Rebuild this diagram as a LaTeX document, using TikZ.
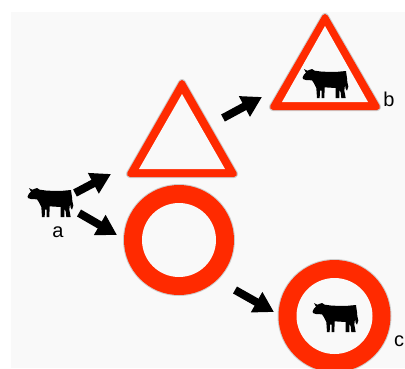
\documentclass[tikz,border=0pt]{standalone}
\usepackage{fontspec}
\setmainfont{Liberation Sans}
\usetikzlibrary{arrows.meta}
\definecolor{signred}{RGB}{255,42,0}
\definecolor{paper}{RGB}{249,249,249}
\definecolor{rim}{RGB}{205,205,205}
\tikzset{
  x=1pt,y=-1pt,
  fatarrow/.style={line width=8pt,-{Triangle[length=20pt,width=22pt]},black},
  letter/.style={font=\fontsize{20}{20}\selectfont,inner sep=0pt,text=black},
  cow/.pic={
    \fill[black,x=0.3333pt,y=-0.3333pt]
      (2,28) -- (6,20) -- (12,14) -- (6,3) -- (16,8) -- (30,3) -- (38,8)
      -- (60,11) -- (100,12) -- (132,9) -- (135,30) -- (136,42) -- (139,56) -- (135,68)
      -- (131,62) -- (129,50) -- (127,68) -- (131,90) -- (118,90) -- (116,72) -- (112,66)
      -- (112,90) -- (101,90) -- (101,60) -- (68,58) -- (67,90) -- (59,90) -- (59,68)
      -- (54,68) -- (53,90) -- (45,90) -- (43,60) -- (36,46) -- (30,37)
      -- (12,36) -- (3,33) -- cycle;
  }
}
\newcommand{\warnsign}[7]{%
  \path[draw=rim,fill=rim,line width=8pt,line join=round]
    (#1,#2+4) -- (#3+4,#4-3) -- (#5-4,#4-3) -- cycle;
  \path[draw=signred,fill=signred,line width=6pt,line join=round]
    (#1,#2+4) -- (#3+4,#4-3) -- (#5-4,#4-3) -- cycle;
  \fill[paper] (#1,#6+1) -- (#3+13,#7) -- (#5-13,#7) -- cycle;
}
\newcommand{\banring}[4]{%
  \fill[rim] (#1,#2) circle[radius=#3+1];
  \fill[signred] (#1,#2) circle[radius=#3];
  \fill[paper] (#1,#2) circle[radius=#4];
}
\begin{document}
\begin{tikzpicture}
\useasboundingbox (0,0) rectangle (405,368);
\fill[paper] (11,12) rectangle (405,368);
\begin{scope}
\clip (0,0) rectangle (405,368);
\warnsign{182}{79}{126}{177}{238}{93}{169}
\warnsign{325}{13}{269}{110}{381}{25}{102}
\banring{179}{240}{55}{37}
\banring{334.5}{316}{56}{38}
\end{scope}
\pic at (27,187) {cow};
\pic at (302,68) {cow};
\pic at (312,302) {cow};
\coordinate (a1) at (75,193);
\coordinate (a2) at (111,174);
\coordinate (b1) at (79,213);
\coordinate (b2) at (117,235);
\coordinate (c1) at (223,118);
\coordinate (c2) at (262,97);
\coordinate (d1) at (235,290);
\coordinate (d2) at (274,312);
\draw[fatarrow] (a1) -- (a2);
\draw[fatarrow] (b1) -- (b2);
\draw[fatarrow] (c1) -- (c2);
\draw[fatarrow] (d1) -- (d2);
\node[letter] (la) at (58,232) {a};
\node[letter] (lb) at (389,99) {b};
\node[letter] (lc) at (399,341) {c};
\end{tikzpicture}
\end{document}
